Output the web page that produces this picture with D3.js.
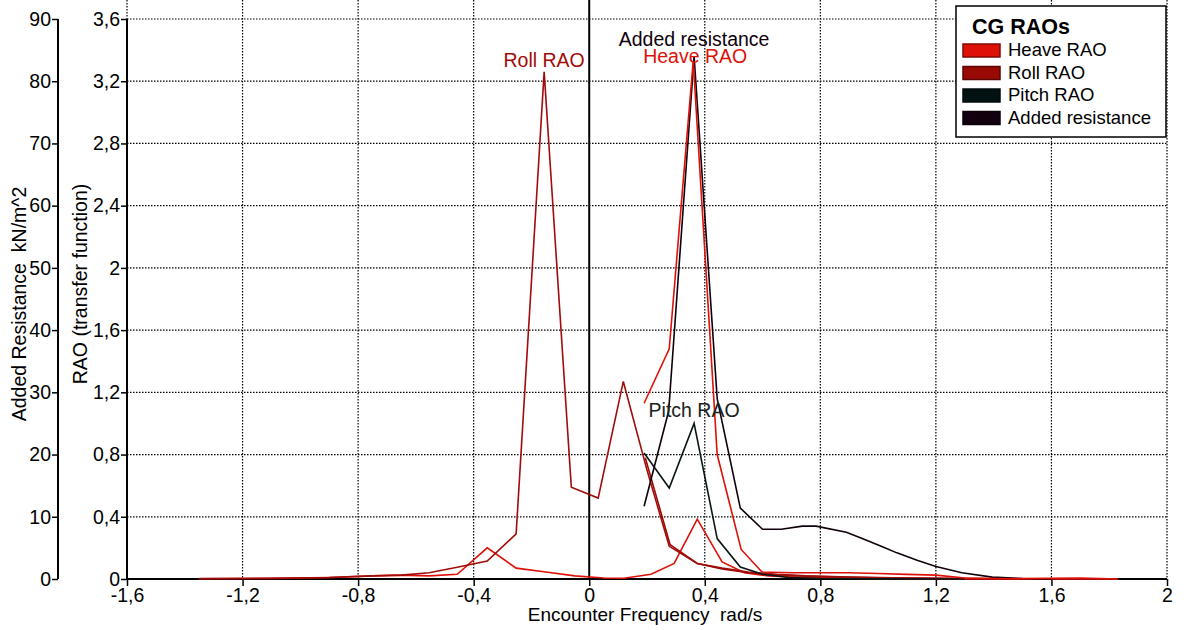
<!DOCTYPE html>
<html>
<head>
<meta charset="utf-8">
<script src="https://cdn.jsdelivr.net/npm/d3@7"></script>
<style>
body { margin: 0; background: #fff; }
text { font-family: "Liberation Sans", Arial, sans-serif; white-space: pre; }
</style>
</head>
<body>
<script>
var w = 1188;
var h = 630;

// tick values
var xTicks = [-1.6, -1.2, -0.8, -0.4, 0, 0.4, 0.8, 1.2, 1.6, 2];
var raoTicks = [0, 0.4, 0.8, 1.2, 1.6, 2, 2.4, 2.8, 3.2, 3.6];
var arTicks = [0, 10, 20, 30, 40, 50, 60, 70, 80, 90];

// series, [encounter frequency rad/s, value]
var heaveHead = [[0.19, 1.13], [0.277, 1.48], [0.36, 3.33], [0.443, 0.80], [0.526, 0.19], [0.598, 0.045],
                 [0.7, 0.04], [0.8, 0.04], [0.9, 0.04], [1.0, 0.035], [1.1, 0.03], [1.2, 0.025],
                 [1.3, 0.006], [1.45, 0.002], [1.7, 0.006], [1.83, 0]];
var heaveOblique = [[-1.35, 0.002], [-1.1, 0.004], [-0.9, 0.01], [-0.75, 0.02], [-0.65, 0.025], [-0.554, 0.02],
                    [-0.457, 0.03], [-0.353, 0.2], [-0.253, 0.07], [-0.15, 0.045], [-0.05, 0.02], [0.05, 0.006],
                    [0.12, 0.005], [0.214, 0.03], [0.294, 0.1], [0.374, 0.385], [0.46, 0.11], [0.537, 0.04],
                    [0.62, 0.02], [0.75, 0.01], [0.9, 0.005], [1.1, 0.002], [1.4, 0.001], [1.8, 0]];
var rollOblique = [[-1.35, 0.003], [-1.1, 0.005], [-0.9, 0.01], [-0.75, 0.02], [-0.65, 0.025], [-0.554, 0.04],
                   [-0.457, 0.075], [-0.353, 0.115], [-0.253, 0.29], [-0.156, 3.26], [-0.062, 0.59], [0.031, 0.52],
                   [0.118, 1.27], [0.2, 0.7], [0.277, 0.21], [0.374, 0.1], [0.46, 0.07], [0.55, 0.045],
                   [0.65, 0.03], [0.75, 0.02], [0.9, 0.012], [1.1, 0.006], [1.3, 0.003], [1.5, 0.001], [1.83, 0]];
var rollHead = [[0.194, 0.78], [0.28, 0.22], [0.374, 0.1], [0.46, 0.065], [0.55, 0.04], [0.65, 0.025],
                [0.8, 0.015], [1.0, 0.008], [1.2, 0.004], [1.4, 0.002], [1.6, 0]];
var pitchHead = [[0.19, 0.81], [0.277, 0.585], [0.363, 1.0], [0.443, 0.26], [0.523, 0.077], [0.6, 0.03],
                 [0.69, 0.01], [0.8, 0.003], [1.0, 0.001], [1.3, 0]];
var addedRes = [[0.19, 11.7], [0.275, 27], [0.363, 84], [0.443, 29], [0.523, 11.4], [0.6, 8], [0.665, 8],
                [0.738, 8.5], [0.785, 8.5], [0.89, 7.5], [0.945, 6.5], [1.015, 5.2], [1.065, 4.2],
                [1.135, 3], [1.2, 2], [1.29, 1], [1.395, 0.3], [1.5, 0.08], [1.6, 0]];

var legendNames = ["Heave RAO", "Roll RAO", "Pitch RAO", "Added resistance"];
var legendColors = ["#dd1108", "#9a0a04", "#021212", "#12000e"];

var heaveCol = "#dd1108";
var rollCol = "#a00c08";
var pitchCol = "#0a1616";
var arCol = "#10000c";

// plot box (note: "top" is taken by window.top)
var pLeft = 127, pRight = 1167, pTop = 19, pBottom = 579;

var x = d3.scaleLinear().domain([-1.6, 2]).range([pLeft, pRight]);
var y = d3.scaleLinear().domain([0, 3.6]).range([pBottom, pTop]);
var yAR = d3.scaleLinear().domain([0, 90]).range([pBottom, pTop]);

var loc = d3.formatLocale({decimal: ",", thousands: ".", grouping: [3], currency: ["", ""], minus: "-"});
var fmt = loc.format("~g");

var svg = d3.select("body").append("svg")
            .attr("width", w)
            .attr("height", h);

svg.append("rect").attr("width", w).attr("height", h).attr("fill", "#fff");

// dotted grid
svg.append("g").selectAll("line")
   .data(xTicks.filter(function(d) { return d != 0; }))
   .enter().append("line")
   .attr("x1", function(d) { return x(d); })
   .attr("x2", function(d) { return x(d); })
   .attr("y1", 0)
   .attr("y2", pBottom)
   .attr("stroke", "#000")
   .attr("stroke-width", 1.2)
   .attr("stroke-dasharray", "1.5,1.5");

svg.append("g").selectAll("line")
   .data(raoTicks.filter(function(d) { return d != 0; }))
   .enter().append("line")
   .attr("x1", pLeft)
   .attr("x2", pRight)
   .attr("y1", function(d) { return y(d); })
   .attr("y2", function(d) { return y(d); })
   .attr("stroke", "#000")
   .attr("stroke-width", 1.2)
   .attr("stroke-dasharray", "1.5,1.5");

// zero line
svg.append("line")
   .attr("x1", x(0)).attr("x2", x(0))
   .attr("y1", 0).attr("y2", pBottom)
   .attr("stroke", "#000").attr("stroke-width", 2);

// axes
var xAxis = svg.append("g")
   .attr("transform", "translate(0," + pBottom + ")")
   .call(d3.axisBottom(x).tickValues(xTicks).tickFormat(fmt).tickSize(7).tickPadding(2));

var raoAxis = svg.append("g")
   .attr("transform", "translate(" + pLeft + ",0)")
   .call(d3.axisLeft(y).tickValues(raoTicks).tickFormat(fmt).tickSize(6).tickPadding(1));

var arAxis = svg.append("g")
   .attr("transform", "translate(58,0)")
   .call(d3.axisLeft(yAR).tickValues(arTicks).tickFormat(fmt).tickSize(6).tickPadding(1));

[xAxis, raoAxis, arAxis].forEach(function(a) {
  a.select(".domain").attr("stroke", "#000").attr("stroke-width", 2);
  a.selectAll(".tick line").attr("stroke", "#000").attr("stroke-width", 1.5);
  a.selectAll("text").attr("fill", "#000").style("font-size", "19.5px")
   .style("font-family", "'Liberation Sans', Arial, sans-serif");
});
xAxis.select(".domain").attr("d", "M" + pLeft + ",0H" + pRight);
raoAxis.select(".domain").attr("d", "M0," + pTop + "V" + pBottom);
arAxis.select(".domain").attr("d", "M0," + pTop + "V" + pBottom);

// axis titles
svg.append("text")
   .attr("transform", "translate(26," + ((pTop + pBottom) / 2 + 5) + ") rotate(-90)")
   .attr("text-anchor", "middle")
   .style("font-size", "19.5px")
   .text("Added Resistance  kN/m^2");

svg.append("text")
   .attr("transform", "translate(87," + ((pTop + pBottom) / 2 - 15) + ") rotate(-90)")
   .attr("text-anchor", "middle")
   .style("font-size", "19.5px")
   .text("RAO (transfer function)");

svg.append("text")
   .attr("x", 645)
   .attr("y", 621)
   .attr("text-anchor", "middle")
   .style("font-size", "19px")
   .text("Encounter Frequency  rad/s");

// series lines
var line = d3.line().x(function(d) { return x(d[0]); }).y(function(d) { return y(d[1]); });
var lineAR = d3.line().x(function(d) { return x(d[0]); }).y(function(d) { return yAR(d[1]); });

var traces = [
  {data: heaveOblique, col: heaveCol, gen: line},
  {data: rollHead, col: rollCol, gen: line},
  {data: rollOblique, col: rollCol, gen: line},
  {data: pitchHead, col: pitchCol, gen: line},
  {data: addedRes, col: arCol, gen: lineAR},
  {data: heaveHead, col: heaveCol, gen: line}
];

traces.forEach(function(t) {
  svg.append("path")
     .attr("d", t.gen(t.data))
     .attr("fill", "none")
     .attr("stroke", t.col)
     .attr("stroke-width", 1.6)
     .attr("stroke-linejoin", "miter");
});

// peak labels
function peakOf(a) {
  var p = a[0];
  for (var i = 1; i < a.length; i++)
    if (a[i][1] > p[1]) p = a[i];
  return p;
}

var rp = peakOf(rollOblique), hp = peakOf(heaveHead), pp = peakOf(pitchHead.slice(1)), ap = peakOf(addedRes);

svg.append("text").attr("x", x(rp[0])).attr("y", y(rp[1]) - 5)
   .attr("text-anchor", "middle").attr("fill", rollCol).style("font-size", "19.5px").text("Roll RAO");
svg.append("text").attr("x", x(ap[0])).attr("y", yAR(ap[1]) - 10)
   .attr("text-anchor", "middle").attr("fill", arCol).style("font-size", "19.5px").text("Added resistance");
svg.append("text").attr("x", x(hp[0]) + 2).attr("y", y(hp[1]) + 2)
   .attr("text-anchor", "middle").attr("fill", heaveCol).style("font-size", "19.5px").text("Heave RAO");
svg.append("text").attr("x", x(pp[0])).attr("y", y(pp[1]) - 6)
   .attr("text-anchor", "middle").attr("fill", "#1a2222").style("font-size", "19.5px").text("Pitch RAO");

// legend
var lg = svg.append("g").attr("transform", "translate(956,6)");
lg.append("rect").attr("width", 210).attr("height", 131)
  .attr("fill", "#fff").attr("stroke", "#000").attr("stroke-width", 1.5);
lg.append("text").attr("x", 16).attr("y", 28)
  .style("font-size", "21.5px").style("font-weight", "bold").text("CG RAOs");

legendNames.forEach(function(n, i) {
  lg.append("rect")
    .attr("x", 7).attr("y", 38 + i * 22.5)
    .attr("width", 37).attr("height", 13)
    .attr("fill", legendColors[i])
    .attr("stroke", d3.color(legendColors[i]).darker(1.5))
    .attr("stroke-width", 1.5);
  lg.append("text")
    .attr("x", 52).attr("y", 50 + i * 22.5)
    .style("font-size", "18.5px")
    .text(n);
});
</script>
</body>
</html>
